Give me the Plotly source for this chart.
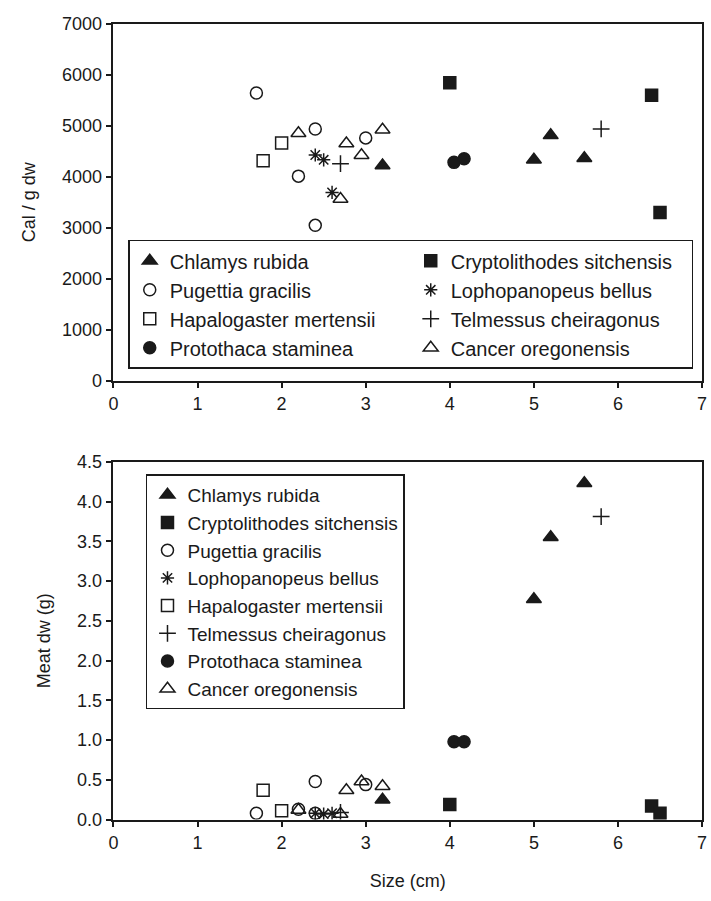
import plotly.graph_objects as go

# ---------------- data ----------------
species = ["Chlamys rubida", "Cryptolithodes sitchensis", "Pugettia gracilis",
           "Lophopanopeus bellus", "Hapalogaster mertensii", "Telmessus cheiragonus",
           "Protothaca staminea", "Cancer oregonensis"]

chlamys_size = [3.2, 5.0, 5.2, 5.6]
chlamys_cal = [4220, 4330, 4810, 4360]
chlamys_meat = [0.25, 2.77, 3.55, 4.23]

crypto_size = [4.0, 6.4, 6.5]
crypto_cal = [5840, 5595, 3295]
crypto_meat = [0.19, 0.17, 0.08]

pugettia_size = [1.7, 2.2, 2.4, 2.4, 3.0]
pugettia_cal = [5640, 4010, 4935, 3045, 4760]
pugettia_meat = [0.08, 0.13, 0.48, 0.08, 0.44]

lopho_size = [2.4, 2.5, 2.6]
lopho_cal = [4425, 4330, 3690]
lopho_meat = [0.08, 0.07, 0.08]

hapalo_size = [1.78, 2.0]
hapalo_cal = [4310, 4660]
hapalo_meat = [0.37, 0.11]

telmessus_size = [2.7, 5.8]
telmessus_cal = [4255, 4935]
telmessus_meat = [0.09, 3.81]

protothaca_size = [4.05, 4.17]
protothaca_cal = [4280, 4350]
protothaca_meat = [0.98, 0.98]

cancer_size = [2.2, 2.7, 2.77, 2.95, 3.2]
cancer_cal = [4850, 3560, 4650, 4420, 4920]
cancer_meat = [0.12, 0.07, 0.37, 0.48, 0.42]

x_ticks = [0, 1, 2, 3, 4, 5, 6, 7]
cal_ticks = [0, 1000, 2000, 3000, 4000, 5000, 6000, 7000]
meat_ticks = [0.0, 0.5, 1.0, 1.5, 2.0, 2.5, 3.0, 3.5, 4.0, 4.5]

sizes = [chlamys_size, crypto_size, pugettia_size, lopho_size,
         hapalo_size, telmessus_size, protothaca_size, cancer_size]
cals = [chlamys_cal, crypto_cal, pugettia_cal, lopho_cal,
        hapalo_cal, telmessus_cal, protothaca_cal, cancer_cal]
meats = [chlamys_meat, crypto_meat, pugettia_meat, lopho_meat,
         hapalo_meat, telmessus_meat, protothaca_meat, cancer_meat]

symbols = ["triangle-up", "square", "circle-open", "asterisk-open",
           "square-open", "cross-thin-open", "circle", "triangle-up-open"]
msizes = [13, 12, 12, 11, 12, 12, 12, 13]

INK = "#1a1a1a"
FONT = "Liberation Sans, Arial, sans-serif"

fig = go.Figure()

for i in range(8):
    fig.add_trace(go.Scatter(
        x=sizes[i], y=cals[i], mode="markers", name=species[i],
        xaxis="x", yaxis="y", legend="legend",
        marker=dict(symbol=symbols[i], size=msizes[i], color=INK,
                    line=dict(color=INK, width=1.5)),
    ))
for i in range(8):
    fig.add_trace(go.Scatter(
        x=sizes[i], y=meats[i], mode="markers", name=species[i],
        xaxis="x2", yaxis="y2", legend="legend2",
        marker=dict(symbol=symbols[i], size=msizes[i], color=INK,
                    line=dict(color=INK, width=1.5)),
    ))

W, H = 711, 901
def px(v):
    return v / W
def py(v):
    return 1 - v / H

axis_common = dict(
    showline=True, linecolor=INK, linewidth=1.5, mirror=True,
    ticks="outside", ticklen=6, tickwidth=1.5, tickcolor=INK,
    showgrid=False, zeroline=False, ticklabeloverflow="allow",
    tickfont=dict(family=FONT, size=18, color=INK),
)
title_font = dict(family=FONT, size=18, color=INK)

fig.update_layout(
    width=W, height=H,
    margin=dict(l=0, r=0, t=0, b=0),
    paper_bgcolor="white", plot_bgcolor="white",
    font=dict(family=FONT, size=18, color=INK),
    xaxis=dict(domain=[px(110), px(707)], range=[0, 7], tickvals=x_ticks,
               anchor="y", **axis_common),
    yaxis=dict(domain=[py(379), py(14)], range=[0, 7000], tickvals=cal_ticks,
               anchor="x", title=dict(text="Cal / g dw", standoff=22, font=title_font),
               **axis_common),
    xaxis2=dict(domain=[px(110), px(707)], range=[0, 7], tickvals=x_ticks,
                anchor="y2", title=dict(text="Size (cm)", standoff=22, font=title_font),
                **axis_common),
    yaxis2=dict(domain=[py(828), py(462)], range=[0, 4.5], tickvals=meat_ticks,
                ticktext=[f"{v:.1f}" for v in meat_ticks],
                anchor="x2", title=dict(text="Meat dw (g)", standoff=22, font=title_font),
                **axis_common),
    legend=dict(x=px(125), y=py(235), xanchor="left", yanchor="top",
                orientation="h", entrywidth=236, entrywidthmode="pixels",
                bgcolor="white", bordercolor=INK, borderwidth=1.5,
                font=dict(family=FONT, size=20, color=INK)),
    legend2=dict(x=px(143), y=py(475), xanchor="left", yanchor="top",
                 orientation="v",
                 bgcolor="white", bordercolor=INK, borderwidth=1.5,
                 font=dict(family=FONT, size=19, color=INK)),
)

fig.write_html(
    "out.html",
    config={"displayModeBar": False},
    post_script="document.body.style.margin='0';document.body.style.overflow='hidden';",
)
